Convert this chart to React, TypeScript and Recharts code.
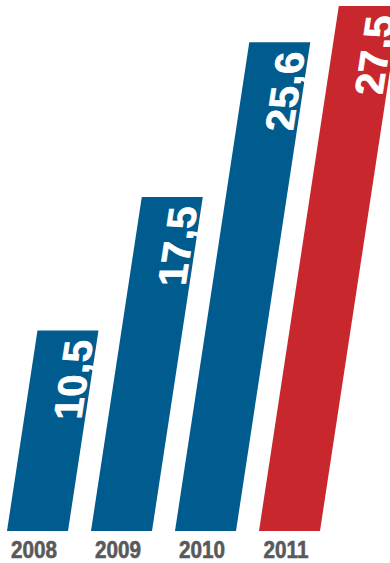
import { BarChart, Bar, XAxis, YAxis, Cell, LabelList } from "recharts";

const years = ["2008", "2009", "2010", "2011"];
const values = [10.5, 17.5, 25.6, 27.5];
const barColors = ["#005b8e", "#005b8e", "#005b8e", "#c8282d"];
const valueLabels = ["10,5", "17,5", "25,6", "27,5"];

const chartData = years.map((year, i) => ({
  year,
  value: values[i],
  label: valueLabels[i],
  color: barColors[i],
}));

const SLANT = 0.152;
const SKEW_DEG = (Math.atan(SLANT) * 180) / Math.PI;
const FONT = "'Liberation Sans', Arial, sans-serif";

// parallelogram bar leaning to the right
const SlantBar = (props: any) => {
  const { x, y, width, height, fill } = props;
  const shift = height * SLANT;
  const bottom = y + height;
  const d = `M${x},${bottom} L${x + width},${bottom} L${x + width + shift},${y} L${x + shift},${y} Z`;
  return <path d={d} fill={fill} />;
};

const ValueLabel = (props: any) => {
  const { x, y, width, height, value } = props;
  const ay = y + 9;
  const ax = x + width + (height - 9) * SLANT - 4;
  return (
    <g transform={`translate(${ax},${ay}) skewX(${-SKEW_DEG})`}>
      <text
        transform="rotate(-90)"
        textAnchor="end"
        fill="#ffffff"
        stroke="#ffffff"
        strokeWidth={0.8}
        fontFamily={FONT}
        fontWeight="bold"
        fontSize={40}
        letterSpacing={0.5}
      >
        {value}
      </text>
    </g>
  );
};

const YearTick = (props: any) => {
  const { x, y, payload } = props;
  return (
    <g transform={`translate(${x - 3},${y + 19}) scale(0.88,1)`}>
      <text
        textAnchor="middle"
        fill="#58595b"
        stroke="#58595b"
        strokeWidth={0.6}
        fontFamily={FONT}
        fontWeight="bold"
        fontSize={23.5}
      >
        {payload.value}
      </text>
    </g>
  );
};

export default function App() {
  return (
    <div style={{ position: "absolute", left: -5.5, top: 0 }}>
      <BarChart
        width={400}
        height={563}
        data={chartData}
        margin={{ top: 6, right: 64, bottom: 0, left: 0 }}
        barSize={61}
      >
        <XAxis
          dataKey="year"
          axisLine={false}
          tickLine={false}
          height={32}
          interval={0}
          tick={<YearTick />}
        />
        <YAxis hide domain={[0, 27.5]} />
        <Bar dataKey="value" shape={<SlantBar />} isAnimationActive={false}>
          {chartData.map((d) => (
            <Cell key={d.year} fill={d.color} />
          ))}
          <LabelList dataKey="label" content={<ValueLabel />} />
        </Bar>
      </BarChart>
    </div>
  );
}
